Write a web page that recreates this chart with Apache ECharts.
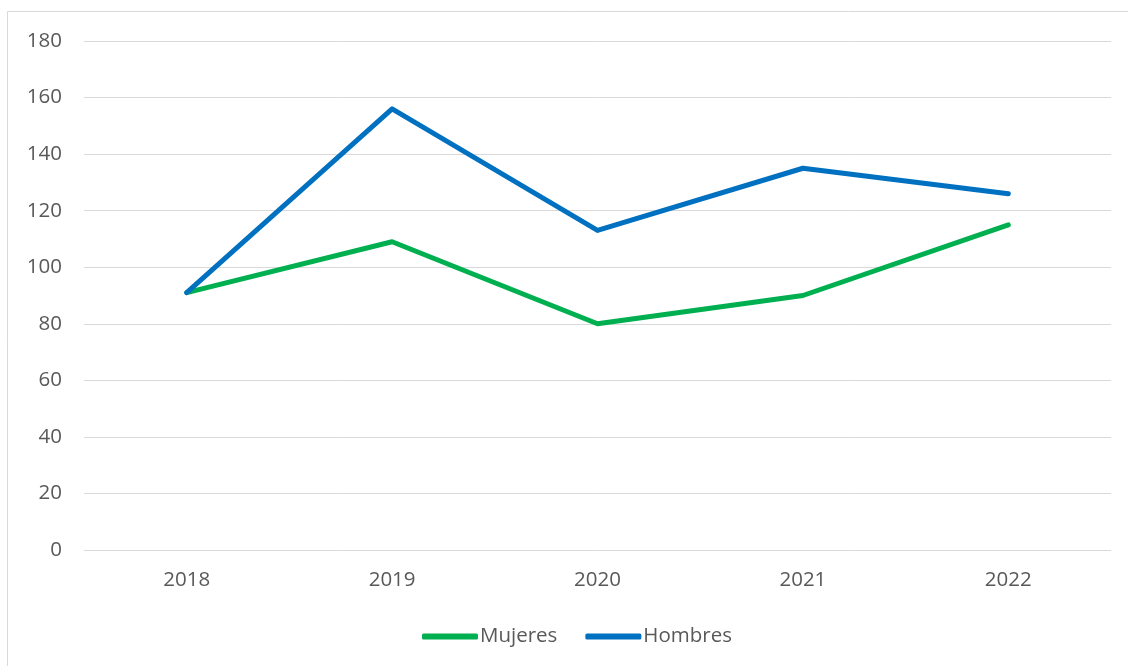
<!DOCTYPE html>
<html>
<head>
<meta charset="utf-8">
<script src="https://cdn.jsdelivr.net/npm/echarts@6/dist/echarts.min.js"></script>
<style>
  html, body { margin: 0; padding: 0; background: #fff; }
  #chart { width: 1128px; height: 666px; }
</style>
</head>
<body>
<div id="chart"></div>
<script>
const years = ['2018', '2019', '2020', '2021', '2022'];
const mujeres = [91, 109, 80, 90, 115];
const hombres = [91, 156, 113, 135, 126];

const chart = echarts.init(document.getElementById('chart'));
const textFont = { color: '#595959', fontSize: 20.5, fontFamily: 'Open Sans, sans-serif' };

chart.setOption({
    graphic: [{
        type: 'rect',
        shape: { x: 7.5, y: 11.5, width: 1130, height: 670 },
        style: { fill: 'none', stroke: '#d9d9d9', lineWidth: 1 },
        silent: true
    }],
    grid: { left: 84, right: 17, top: 41, bottom: 116 },
    legend: {
        bottom: 14,
        left: 417,
        icon: 'roundRect',
        itemWidth: 56,
        itemHeight: 6,
        itemGap: 28,
        textStyle: Object.assign({ padding: [0, 0, 0, -3] }, textFont),
        data: ['Mujeres', 'Hombres']
    },
    xAxis: {
        type: 'category',
        data: years,
        axisLine: { show: false },
        axisTick: { show: false },
        axisLabel: Object.assign({ margin: 20 }, textFont)
    },
    yAxis: {
        type: 'value',
        min: 0,
        max: 180,
        interval: 20,
        axisLine: { show: false },
        axisTick: { show: false },
        axisLabel: Object.assign({ margin: 22 }, textFont),
        splitLine: { lineStyle: { color: '#d9d9d9', width: 1 } }
    },
    series: [
        {
            name: 'Mujeres',
            type: 'line',
            data: mujeres,
            symbol: 'none',
            lineStyle: { color: '#00B050', width: 5, cap: 'round', join: 'round' },
            itemStyle: { color: '#00B050' }
        },
        {
            name: 'Hombres',
            type: 'line',
            data: hombres,
            symbol: 'none',
            lineStyle: { color: '#0070C0', width: 5, cap: 'round', join: 'round' },
            itemStyle: { color: '#0070C0' }
        }
    ]
});
</script>
</body>
</html>
